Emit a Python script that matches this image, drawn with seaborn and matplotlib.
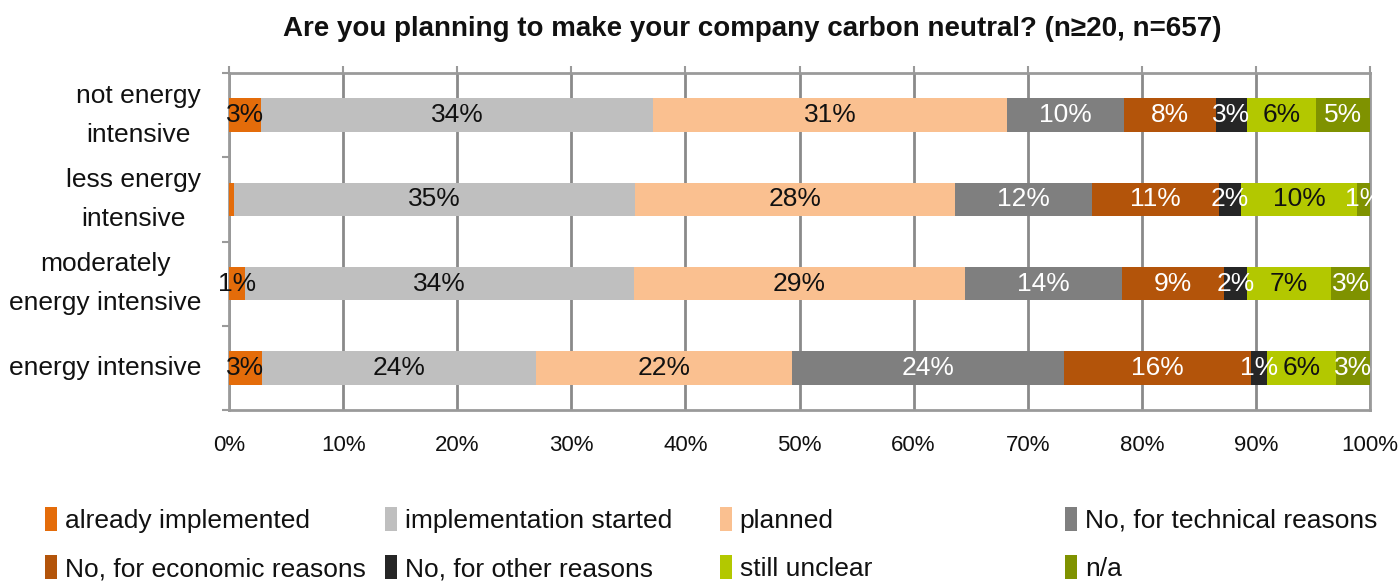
import matplotlib
matplotlib.use("Agg")
import matplotlib.pyplot as plt
from matplotlib.patches import Patch
import numpy as np
import pandas as pd
import seaborn as sns

categories = ["not energy\nintensive", "less energy\nintensive",
              "moderately\nenergy intensive", "energy intensive"]
series = ["already implemented", "implementation started", "planned",
          "No, for technical reasons", "No, for economic reasons",
          "No, for other reasons", "still unclear", "n/a"]
already_implemented = [2.8, 0.4, 1.4, 2.9]
implementation_started = [34.4, 35.2, 34.1, 24.0]
planned = [31.0, 28.0, 29.0, 22.4]
no_technical = [10.2, 12.0, 13.8, 23.9]
no_economic = [8.1, 11.2, 8.9, 16.4]
no_other = [2.7, 1.9, 2.0, 1.4]
still_unclear = [6.1, 10.2, 7.4, 6.0]
not_answered = [4.7, 1.1, 3.4, 3.0]
x_ticks = [0, 10, 20, 30, 40, 50, 60, 70, 80, 90, 100]

colors = ["#E46C0A", "#BFBFBF", "#FAC090", "#7F7F7F",
          "#B3540A", "#262626", "#B3C800", "#7F9200"]
text_colors = ["#111111", "#111111", "#111111", "white",
               "white", "white", "#111111", "white"]

values = [already_implemented, implementation_started, planned, no_technical,
          no_economic, no_other, still_unclear, not_answered]

sns.set_theme(style="white")
fonts = ["Liberation Sans Narrow", "Liberation Sans", "DejaVu Sans"]
plt.rcParams["font.family"] = fonts
plt.rcParams["text.color"] = "#111111"
plt.rcParams["xtick.color"] = "#111111"
plt.rcParams["ytick.color"] = "#111111"

fig = plt.figure(figsize=(13.99, 5.86), dpi=100)
ax = fig.add_axes([229 / 1399, 1 - 410 / 586, (1370 - 229) / 1399, (410 - 73) / 586])

vals = np.array(values)          # series x categories
cum = np.cumsum(vals, axis=0)

# stacked bars: draw cumulative totals from the outermost segment inward
for k in range(len(series) - 1, -1, -1):
    df = pd.DataFrame({"cat": categories, "end": cum[k]})
    sns.barplot(data=df, y="cat", x="end", color=colors[k], orient="h",
                width=0.4, saturation=1, ax=ax, zorder=3, linewidth=0)

fs = 19
for k in range(len(series)):
    for i in range(len(categories)):
        v = vals[k, i]
        lab = f"{v:.0f}%"
        if lab == "0%":
            continue
        ax.text(cum[k, i] - v / 2, i, lab, ha="center", va="center",
                color=text_colors[k], fontsize=fs, zorder=5)

ax.set_xlim(0, 100)
ax.set_ylim(len(categories) - 0.5, -0.5)
ax.set_xticks(x_ticks)
ax.set_xticklabels([f"{t}%" for t in x_ticks], fontsize=16)
ax.tick_params(axis="x", pad=13, length=5, color="#9A9A9A", width=1.5,
               top=True, bottom=False, direction="out")
ax.set_yticks(range(len(categories)))
ax.set_yticklabels(categories, fontsize=fs, multialignment="center", linespacing=1.8)
for t in ax.get_yticklabels():
    t.set_verticalalignment("center")
ax.tick_params(axis="y", length=0, pad=20)
ax.set_yticks(np.arange(-0.5, len(categories), 1), minor=True)
ax.tick_params(axis="y", which="minor", length=5, color="#9A9A9A", width=1.5, left=True)
ax.set_xlabel("")
ax.set_ylabel("")

ax.grid(axis="x", color="#8A8A8A", linewidth=2, zorder=0)
ax.set_axisbelow(True)
for s in ax.spines.values():
    s.set_color("#9A9A9A")
    s.set_linewidth(2)

fig.suptitle("Are you planning to make your company carbon neutral? (n\u226520, n=657)",
             x=752 / 1399, y=1 - 16 / 586, va="top",
             fontsize=20, fontweight="bold", family=fonts)

# legend laid out in four fixed columns, two rows each
col_x = [45 / 1399, 385 / 1399, 720 / 1399, 1065 / 1399]
for c in range(4):
    hs = [Patch(facecolor=colors[c], edgecolor="none"),
          Patch(facecolor=colors[c + 4], edgecolor="none")]
    fig.legend(hs, [series[c], series[c + 4]], loc="upper left",
               bbox_to_anchor=(col_x[c], 1 - 507 / 586), frameon=False,
               fontsize=fs, handlelength=0.45, handleheight=1.0,
               handletextpad=0.3, labelspacing=0.85, borderpad=0, borderaxespad=0)

fig.savefig("out.png", dpi=100)
